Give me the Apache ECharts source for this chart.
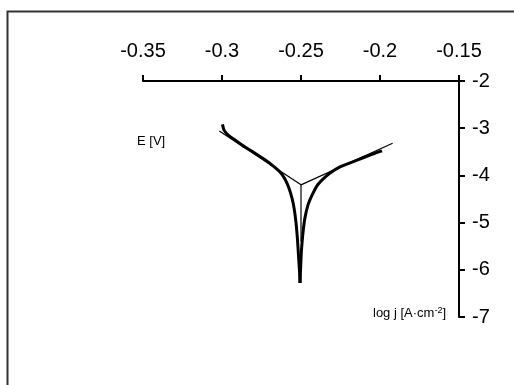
<!DOCTYPE html>
<html>
<head>
<meta charset="utf-8">
<style>
  html, body { margin: 0; padding: 0; background: #fff; }
  #chart { width: 514px; height: 385px; }
</style>
<script src="https://cdn.jsdelivr.net/npm/echarts@6/dist/echarts.min.js"></script>
</head>
<body>
<div id="chart"></div>
<script>
// Potential axis ticks (E, V) and current-density axis ticks (log j)
const eTicks = [-0.35, -0.3, -0.25, -0.2, -0.15];
const logjTicks = [-2, -3, -4, -5, -6, -7];

// Polarisation curve: cathodic branch, [E, log j]
const cathodic = [
  [-0.2997, -2.92], [-0.2987, -3.04], [-0.2962, -3.14], [-0.2918, -3.25],
  [-0.2854, -3.40], [-0.2791, -3.53], [-0.2728, -3.67], [-0.2677, -3.80],
  [-0.2633, -3.93], [-0.2601, -4.08], [-0.2576, -4.27], [-0.2557, -4.48],
  [-0.2544, -4.69], [-0.2532, -4.99], [-0.2522, -5.37], [-0.2516, -5.69],
  [-0.2510, -6.00], [-0.2506, -6.28]
];
// Anodic branch, [E, log j]
const anodic = [
  [-0.2506, -6.28], [-0.2503, -6.00], [-0.2497, -5.58], [-0.2487, -5.20],
  [-0.2475, -4.90], [-0.2456, -4.63], [-0.2430, -4.42], [-0.2399, -4.22],
  [-0.2361, -4.08], [-0.2316, -3.95], [-0.2253, -3.82], [-0.2177, -3.72],
  [-0.2095, -3.61], [-0.2032, -3.53], [-0.1987, -3.48]
];
// Tafel extrapolation lines and the corrosion-potential drop
const tafelCathodic = [[-0.3017, -3.06], [-0.2500, -4.20]];
const tafelAnodic = [[-0.2500, -4.20], [-0.1920, -3.32]];
const corrosionLine = [[-0.2500, -4.20], [-0.2500, -5.40]];

const chart = echarts.init(document.getElementById('chart'), null, { renderer: 'canvas' });
const FONT = '"Liberation Sans", Arial, sans-serif';

const thick = d => ({
  type: 'line', data: d, showSymbol: false, smooth: 0.2,
  lineStyle: { color: '#000', width: 3 }, z: 3
});
const thin = d => ({
  type: 'line', data: d, showSymbol: false,
  lineStyle: { color: '#000', width: 1.2 }, z: 2
});

chart.setOption({
  animation: false,
  backgroundColor: '#fff',
  grid: { left: 143, right: 55, top: 81, bottom: 68 },
  xAxis: {
    type: 'value', position: 'top',
    min: eTicks[0], max: eTicks[eTicks.length - 1], interval: 0.05,
    axisLine: { onZero: false, lineStyle: { color: '#000', width: 2 } },
    axisTick: { length: 6, lineStyle: { color: '#000', width: 2 } },
    axisLabel: {
      margin: 20, color: '#000', fontSize: 20, fontFamily: FONT,
      formatter: v => String(Number(v.toFixed(2)))
    },
    splitLine: { show: false }
  },
  yAxis: {
    type: 'value', position: 'right',
    min: logjTicks[logjTicks.length - 1], max: logjTicks[0], interval: 1,
    axisLine: { onZero: false, lineStyle: { color: '#000', width: 2 } },
    axisTick: { length: 6, lineStyle: { color: '#000', width: 2 } },
    axisLabel: {
      margin: 13, color: '#000', fontSize: 20, fontFamily: FONT,
      formatter: v => String(v)
    },
    splitLine: { show: false }
  },
  graphic: [
    {
      type: 'rect', silent: true,
      shape: { x: 7.5, y: 11.5, width: 530, height: 400 },
      style: { fill: 'none', stroke: '#333', lineWidth: 2 }
    },
    {
      type: 'text', left: 137, top: 135,
      style: { text: 'E [V]', font: '13px ' + FONT, fill: '#000' }
    },
    {
      type: 'text', left: 373, top: 306,
      style: {
        text: 'log j [A·cm{s|-2}]',
        font: '13px ' + FONT, fill: '#000',
        rich: { s: { fontSize: 9, fontFamily: FONT, verticalAlign: 'top', padding: [0, 0, 6, 0] } }
      }
    }
  ],
  series: [
    thick(cathodic), thick(anodic),
    thin(tafelCathodic), thin(tafelAnodic), thin(corrosionLine)
  ]
});
</script>
</body>
</html>
